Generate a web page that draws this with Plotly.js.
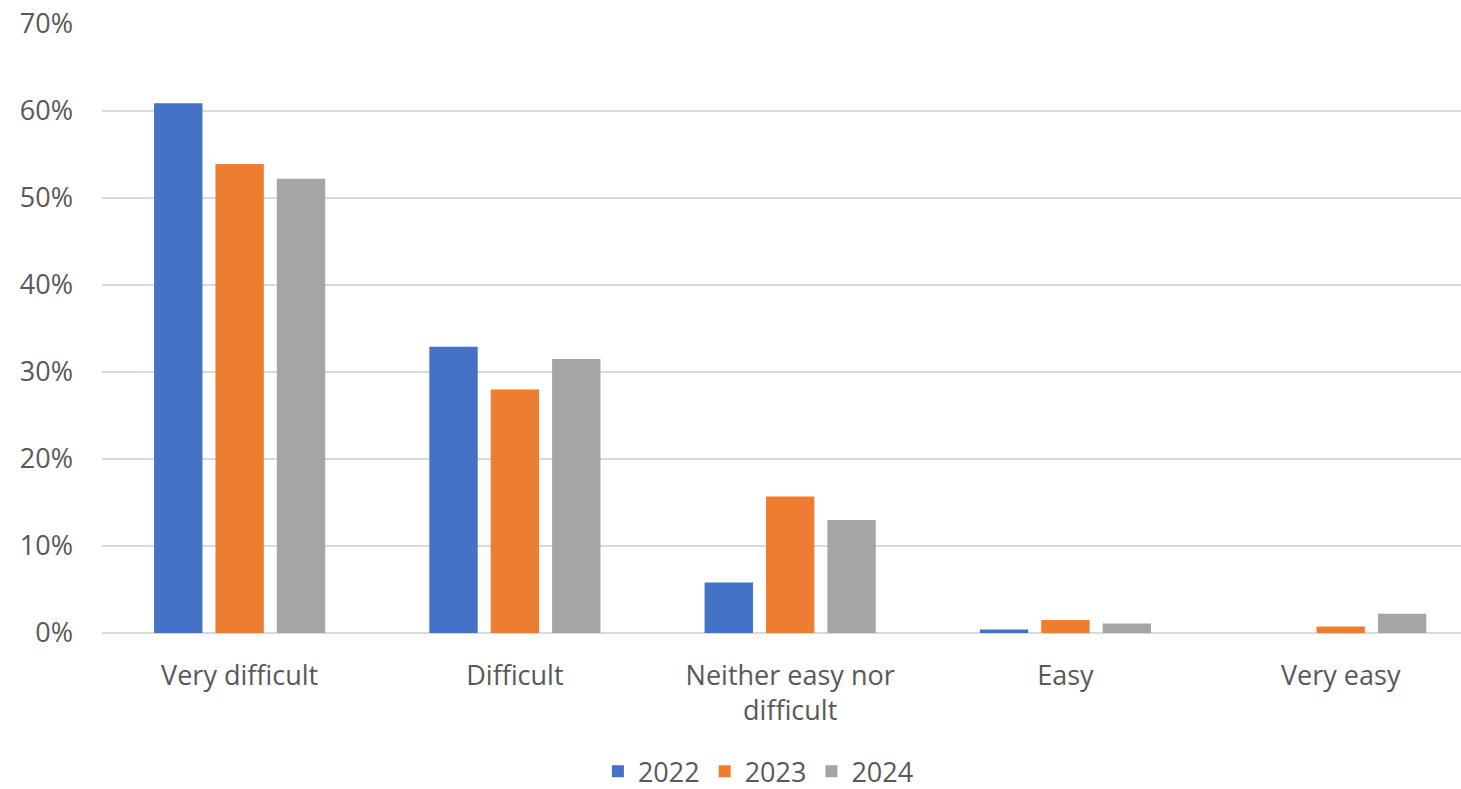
<!DOCTYPE html>
<html>
<head>
<meta charset="utf-8">
<script src="https://cdn.plot.ly/plotly-3.0.1.min.js"></script>
<style>
  html, body { margin: 0; padding: 0; background: #fff; }
  #chart { width: 1461px; height: 789px; }
</style>
</head>
<body>
<div id="chart"></div>
<script>
// Perceived difficulty, share of respondents per year
const categories = ["Very difficult", "Difficult", "Neither easy nor<br>difficult", "Easy", "Very easy"];
const years = ["2022", "2023", "2024"];
const values2022 = [0.609, 0.329, 0.058, 0.004, 0.0];
const values2023 = [0.539, 0.280, 0.157, 0.015, 0.0075];
const values2024 = [0.522, 0.315, 0.130, 0.011, 0.022];
const yTicks = [0, 0.1, 0.2, 0.3, 0.4, 0.5, 0.6, 0.7];
const yTickLabels = ["0%", "10%", "20%", "30%", "40%", "50%", "60%", "70%"];

const colors = ["#4472C4", "#ED7D31", "#A5A5A5"];
const seriesValues = [values2022, values2023, values2024];

const traces = years.map((yr, i) => ({
  type: "bar",
  name: yr,
  x: categories,
  y: seriesValues[i],
  marker: { color: colors[i], line: { width: 0 } },
  hoverinfo: "x+y+name"
}));

const font = { family: "Open Sans, sans-serif", size: 27, color: "#595959" };

const layout = {
  width: 1461,
  height: 789,
  margin: { l: 102, r: 0, t: 23.5, b: 155.5, pad: 0, autoexpand: false },
  paper_bgcolor: "#ffffff",
  plot_bgcolor: "#ffffff",
  font: font,
  barmode: "group",
  bargap: 0.331,
  bargroupgap: 0.212,
  showlegend: true,
  legend: {
    orientation: "h",
    x: 0.483,
    xanchor: "center",
    y: -0.268,
    yanchor: "bottom",
    font: font,
    itemwidth: 30,
    traceorder: "normal"
  },
  xaxis: {
    type: "category",
    range: [-0.5, 4.437],
    automargin: false,
    showgrid: false,
    zeroline: false,
    showline: false,
    ticks: "",
    ticklabelstandoff: 24,
    tickfont: font,
    fixedrange: true
  },
  yaxis: {
    range: [0, 0.7],
    automargin: false,
    tickvals: yTicks,
    ticktext: yTickLabels,
    showgrid: true,
    gridcolor: "#d9d9d9",
    gridwidth: 1.5,
    zeroline: true,
    zerolinecolor: "#d9d9d9",
    zerolinewidth: 1.5,
    showline: false,
    ticks: "",
    ticklabelstandoff: 28,
    tickfont: font,
    fixedrange: true
  }
};

Plotly.newPlot("chart", traces, layout, { displayModeBar: false, staticPlot: true });
</script>
</body>
</html>
